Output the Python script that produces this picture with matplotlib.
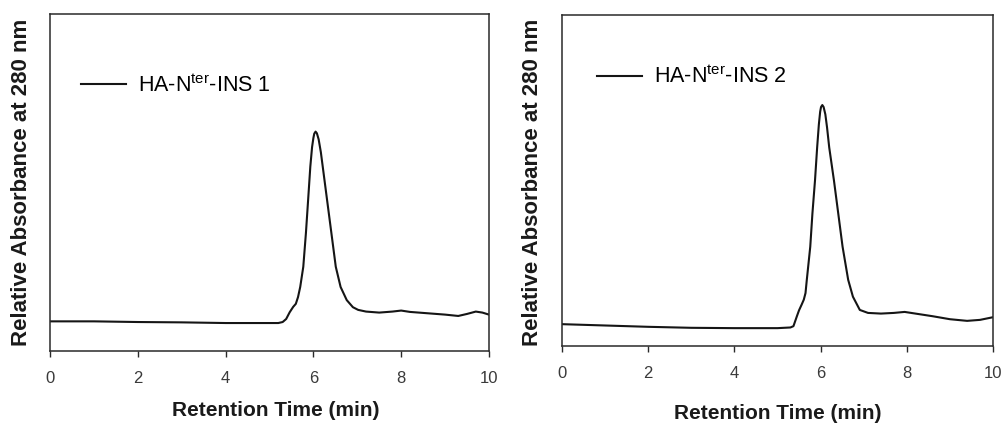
import matplotlib
matplotlib.use("Agg")
import matplotlib.pyplot as plt

plt.rcParams["font.family"] = ["Liberation Sans", "DejaVu Sans"]
plt.rcParams["mathtext.fontset"] = "custom"
plt.rcParams["mathtext.rm"] = "Liberation Sans"
plt.rcParams["mathtext.it"] = "Liberation Sans:italic"
plt.rcParams["mathtext.bf"] = "Liberation Sans:bold"

# Chromatogram of HA-Nter-INS 1 (retention time in min, relative absorbance)
time_1 = [0, 1, 2, 3, 4, 5, 5.2, 5.3, 5.38, 5.46, 5.54, 5.6, 5.65, 5.7, 5.77,
          5.83, 5.88, 5.93, 5.97, 6.0, 6.02, 6.05, 6.08, 6.12, 6.17, 6.23,
          6.32, 6.41, 6.51, 6.62, 6.76, 6.9, 7.02, 7.2, 7.5, 7.8, 8.0, 8.2,
          8.6, 9.0, 9.3, 9.5, 9.7, 9.85, 10]
absorb_1 = [0.088, 0.088, 0.086, 0.085, 0.083, 0.083, 0.083, 0.086, 0.095,
            0.115, 0.131, 0.140, 0.160, 0.190, 0.250, 0.350, 0.448, 0.547,
            0.605, 0.632, 0.645, 0.651, 0.646, 0.628, 0.590, 0.530, 0.440,
            0.350, 0.250, 0.190, 0.151, 0.130, 0.122, 0.117, 0.114, 0.117,
            0.120, 0.116, 0.112, 0.108, 0.104, 0.110, 0.117, 0.114, 0.108]

# Chromatogram of HA-Nter-INS 2
time_2 = [0, 0.5, 1, 2, 3, 4, 5, 5.3, 5.37, 5.45, 5.5, 5.56, 5.61, 5.65, 5.68,
          5.72, 5.76, 5.81, 5.87, 5.92, 5.96, 5.99, 6.01, 6.04, 6.07, 6.11,
          6.15, 6.2, 6.31, 6.41, 6.51, 6.64, 6.75, 6.91, 7.1, 7.4, 7.7, 7.95,
          8.2, 8.6, 9.0, 9.4, 9.7, 10]
absorb_2 = [0.066, 0.064, 0.062, 0.058, 0.055, 0.054, 0.054, 0.056, 0.060,
            0.090, 0.108, 0.125, 0.140, 0.160, 0.200, 0.250, 0.300, 0.400,
            0.500, 0.600, 0.670, 0.708, 0.722, 0.728, 0.722, 0.700, 0.660,
            0.600, 0.500, 0.400, 0.300, 0.200, 0.149, 0.109, 0.100, 0.098,
            0.100, 0.103, 0.098, 0.090, 0.081, 0.076, 0.079, 0.087]

labels = ["HA-N$^{\\rm ter}$-INS 1", "HA-N$^{\\rm ter}$-INS 2"]
x_ticks = [0, 2, 4, 6, 8, 10]

fig = plt.figure(figsize=(10.02, 4.23), dpi=100)
ax1 = fig.add_axes([0.0499, 0.1702, 0.4381, 0.7967])
ax2 = fig.add_axes([0.5609, 0.1820, 0.4301, 0.7825])

frame_col = "#2a2a2a"
panels = [
    (ax1, time_1, absorb_1, labels[0], (0.0706, 0.789), (0.514, -0.148),
     (-0.041, 0.5)),
    (ax2, time_2, absorb_2, labels[1], (0.081, 0.813), (0.5, -0.175),
     (-0.044, 0.495)),
]
for ax, t, a, lab, leg_pos, xl_pos, yl_pos in panels:
    ax.plot(t, a, color="#151515", lw=1.5, label=lab)
    ax.set_xlim(0, 10)
    ax.set_ylim(0, 1)
    ax.set_xticks(x_ticks)
    ax.set_yticks([])
    ax.tick_params(axis="x", direction="out", length=4.5, width=1,
                   color=frame_col, labelsize=12, labelcolor="#3a3a3a", pad=10)
    for sp in ax.spines.values():
        sp.set_color(frame_col)
        sp.set_linewidth(1.1)
    ax.set_xlabel("Retention Time (min)", fontsize=15, fontweight="bold",
                  color="#1a1a1a")
    ax.xaxis.set_label_coords(*xl_pos)
    ax.set_ylabel("Relative Absorbance at 280 nm", fontsize=16,
                  fontweight="bold", color="#1a1a1a")
    ax.yaxis.set_label_coords(*yl_pos)
    ax.legend(loc="center left", bbox_to_anchor=leg_pos, frameon=False,
              fontsize=15.5, handlelength=2.09, handletextpad=0.56,
              borderpad=0, borderaxespad=0)

fig.savefig("out.png", dpi=100)
